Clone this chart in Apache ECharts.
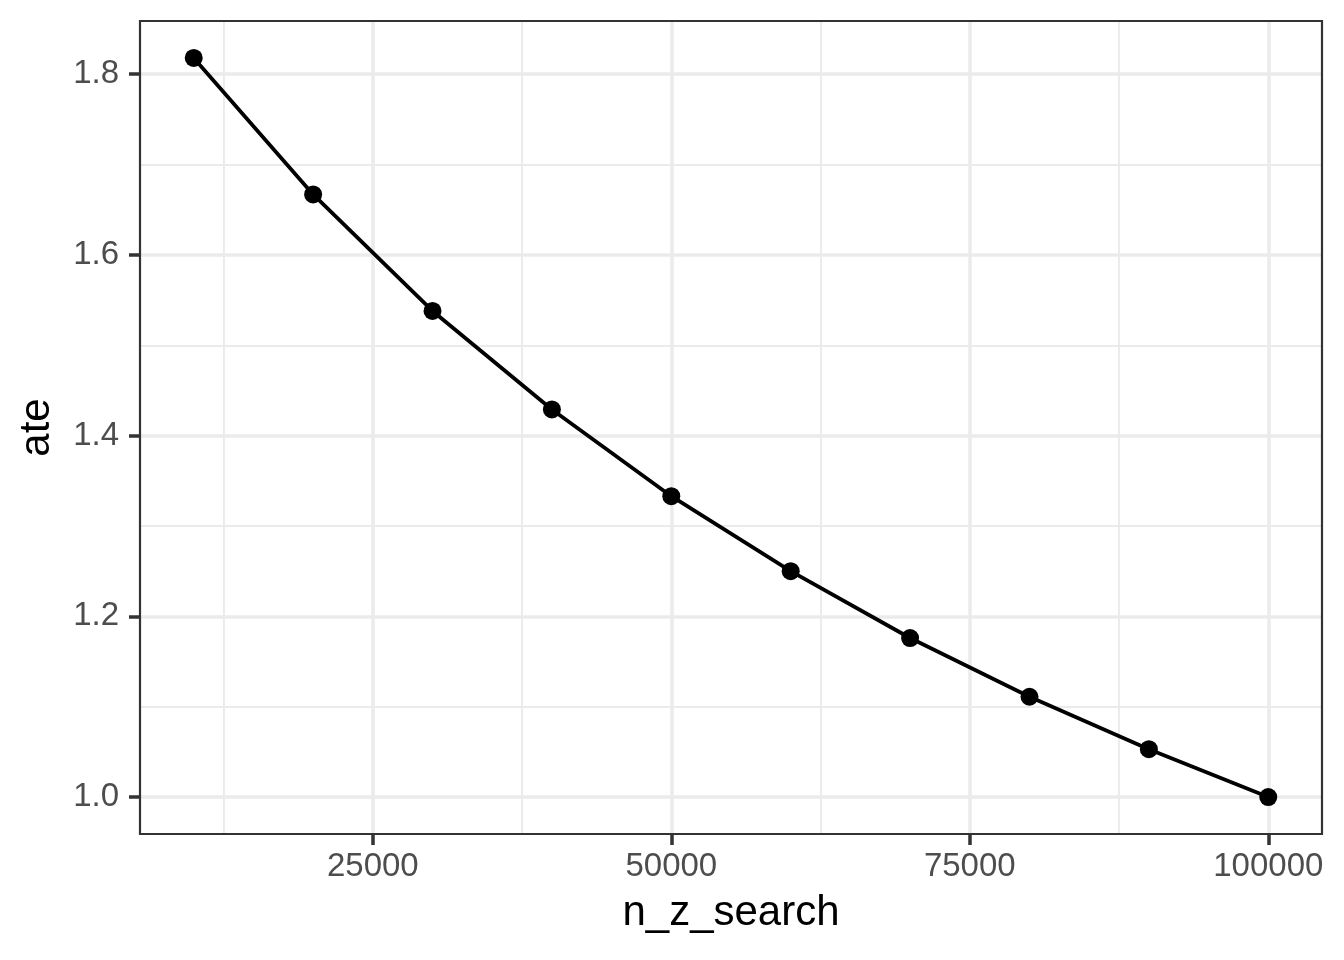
<!DOCTYPE html>
<html>
<head>
<meta charset="utf-8">
<script src="https://cdn.jsdelivr.net/npm/echarts@6/dist/echarts.min.js"></script>
<style>
html,body{margin:0;padding:0;background:#fff;}
#chart{width:1344px;height:960px;}
</style>
</head>
<body>
<div id="chart"></div>
<script>
// Data
const nZSearch = [10000, 20000, 30000, 40000, 50000, 60000, 70000, 80000, 90000, 100000];
const ate = [1.818, 1.667, 1.538, 1.429, 1.333, 1.25, 1.176, 1.111, 1.053, 1.0];
const xMajorTicks = [25000, 50000, 75000, 100000];
const xMinorTicks = [12500, 37500, 62500, 87500];
const yMajorTicks = [1.0, 1.2, 1.4, 1.6, 1.8];
const yMinorTicks = [1.1, 1.3, 1.5, 1.7];
const xTitle = 'n_z_search';
const yTitle = 'ate';

// ggplot-like 5% expansion
const xMinD = Math.min(...nZSearch), xMaxD = Math.max(...nZSearch);
const yMinD = Math.min(...ate), yMaxD = Math.max(...ate);
const xPad = (xMaxD - xMinD) * 0.05, yPad = (yMaxD - yMinD) * 0.05;
const xMin = xMinD - xPad, xMax = xMaxD + xPad;
const yMin = yMinD - yPad, yMax = yMaxD + yPad;

const FONT = 'Liberation Sans, Arial, Helvetica, sans-serif';
const GRID = '#EBEBEB';
const DARK = '#333333';

const chart = echarts.init(document.getElementById('chart'), null, {renderer: 'canvas'});
chart.setOption({
  animation: false,
  backgroundColor: '#ffffff',
  grid: {left: 140, right: 22, top: 21, bottom: 126, show: true, borderColor: DARK, borderWidth: 2.2, backgroundColor: 'transparent', z: 10},
  xAxis: [
    {
      type: 'value', min: xMin, max: xMax, gridIndex: 0, position: 'bottom',
      axisLine: {show: false},
      axisTick: {show: false, customValues: xMinorTicks},
      axisLabel: {show: false, customValues: xMinorTicks},
      splitLine: {show: true, lineStyle: {color: GRID, width: 1.9}}
    },
    {
      type: 'value', min: xMin, max: xMax, gridIndex: 0, position: 'bottom',
      name: xTitle, nameLocation: 'middle', nameGap: 58,
      nameTextStyle: {fontFamily: FONT, fontSize: 42, color: '#000'},
      axisLine: {show: false, onZero: false},
      axisTick: {show: true, length: 11, customValues: xMajorTicks, lineStyle: {color: DARK, width: 3.5}},
      axisLabel: {show: true, customValues: xMajorTicks, margin: 16, fontFamily: FONT, fontSize: 33, color: '#4D4D4D', formatter: v => String(Math.round(v))},
      splitLine: {show: true, lineStyle: {color: GRID, width: 3.6}}
    }
  ],
  yAxis: [
    {
      type: 'value', min: yMin, max: yMax, gridIndex: 0, position: 'left',
      axisLine: {show: false},
      axisTick: {show: false, customValues: yMinorTicks},
      axisLabel: {show: false, customValues: yMinorTicks},
      splitLine: {show: true, lineStyle: {color: GRID, width: 1.9}}
    },
    {
      type: 'value', min: yMin, max: yMax, gridIndex: 0, position: 'left',
      name: yTitle, nameLocation: 'middle', nameGap: 82, nameRotate: 90,
      nameTextStyle: {fontFamily: FONT, fontSize: 42, color: '#000'},
      axisLine: {show: false, onZero: false},
      axisTick: {show: true, length: 11, customValues: yMajorTicks, lineStyle: {color: DARK, width: 3.5}},
      axisLabel: {show: true, customValues: yMajorTicks, margin: 21, fontFamily: FONT, fontSize: 33, color: '#4D4D4D', formatter: v => v.toFixed(1)},
      splitLine: {show: true, lineStyle: {color: GRID, width: 3.6}}
    }
  ],
  series: [{
    type: 'line',
    xAxisIndex: 1, yAxisIndex: 1,
    data: nZSearch.map((x, i) => [x, ate[i]]),
    symbol: 'circle', symbolSize: 18,
    showSymbol: true,
    itemStyle: {color: '#000000'},
    lineStyle: {color: '#000000', width: 3.8},
    silent: true,
    z: 5
  }]
});
</script>
</body>
</html>
